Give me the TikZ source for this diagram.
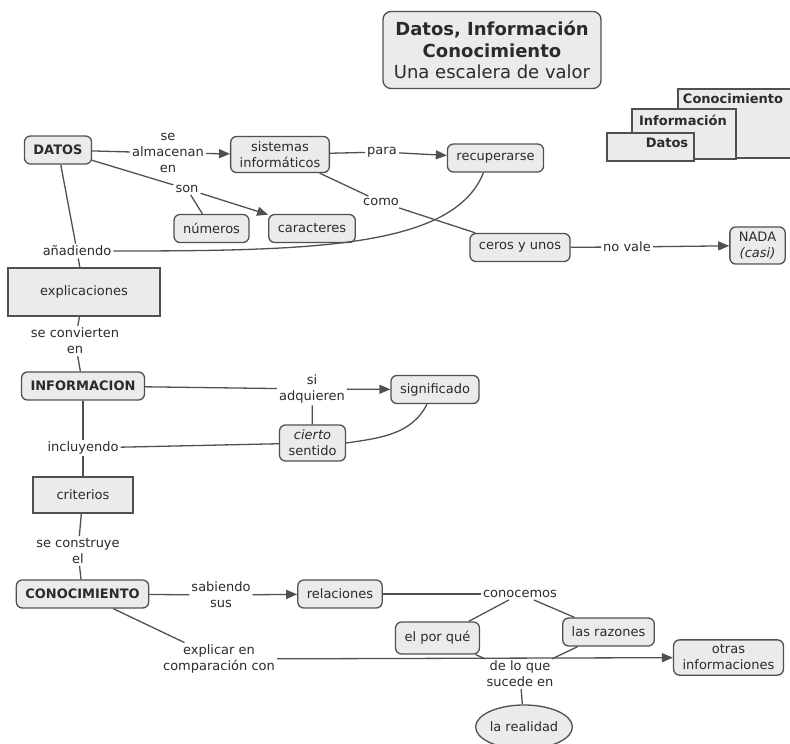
\documentclass[tikz,border=0pt]{standalone}
\usepackage{fontspec}
\setmainfont{DejaVu Sans}
\usepackage{tikz}
\usetikzlibrary{shapes.geometric, arrows.meta, positioning, calc}
\definecolor{boxgray}{HTML}{EBEBEB}
\definecolor{edgegray}{HTML}{505050}
\definecolor{inkgray}{HTML}{2B2B2B}

\begin{document}
\begin{tikzpicture}[
        x=1pt, y=-1pt,
        >={Triangle[length=11pt,width=9pt]},
        font=\fontsize{13}{16}\selectfont,
        text=inkgray,
        % concept boxes
        concept/.style={rectangle, rounded corners=6pt, draw=edgegray, line width=1.3pt, fill=boxgray, align=center, inner xsep=9pt, inner ysep=5pt, minimum height=28pt},
        boldconcept/.style={concept, font=\fontsize{13}{16}\selectfont\bfseries},
        plainbox/.style={rectangle, draw=edgegray, line width=1.3pt, fill=boxgray, align=center},
        oval/.style={ellipse, draw=edgegray, line width=1.3pt, fill=boxgray, minimum width=95pt, minimum height=44pt, inner sep=0pt},
        % linking phrases
        link/.style={align=center, inner sep=2pt},
        line/.style={draw=edgegray, line width=1.3pt},
        arrow/.style={line, ->},
        % little stair
        stepbox/.style={draw=edgegray, line width=1.3pt, fill=boxgray},
        steptext/.style={font=\fontsize{13}{15}\selectfont\bfseries}
    ]
    \useasboundingbox (0,0) rectangle (790,744);

    % --- 1. TITULO Y ESCALERA ---
    \node[concept, rounded corners=8pt, font=\fontsize{18}{21.5}\selectfont, minimum width=218pt, minimum height=77pt] (title) at (492,50)
        {\textbf{Datos, Información}\\\textbf{Conocimiento}\\Una escalera de valor};

    \draw[stepbox] (678,89) rectangle (795,158);
    \draw[stepbox] (632,109) rectangle (736,159);
    \draw[stepbox] (607,133) rectangle (694,161);
    \node[steptext] (stepC) at (733,99) {Conocimiento};
    \node[steptext] (stepI) at (683,120) {Información};
    \node[steptext] (stepD) at (667,143) {Datos};

    % --- 2. CONCEPTOS ---
    \node[boldconcept] (datos) at (58,150) {DATOS};
    \node[concept] (sistemas) at (280,154.5) {sistemas\\informáticos};
    \node[concept] (recup) at (495.5,158) {recuperarse};
    \node[concept] (numeros) at (211.5,228.5) {números};
    \node[concept] (caract) at (312,228.5) {caracteres};
    \node[concept] (ceros) at (520,247.5) {ceros y unos};
    \node[concept] (nada) at (757.5,245.5) {NADA\\\textit{(casi)}};
    \node[plainbox, minimum width=152pt, minimum height=48pt] (explic) at (84,292) {explicaciones};
    \node[boldconcept] (info) at (83,386) {INFORMACION};
    \node[concept] (signif) at (435,389.5) {significado};
    \node[concept] (cierto) at (312.5,443) {\textit{cierto}\\sentido};
    \node[plainbox, minimum width=100pt, minimum height=36pt] (criterios) at (83,495) {criterios};
    \node[boldconcept] (conoc) at (82.5,594) {CONOCIMIENTO};
    \node[concept] (relac) at (340,594) {relaciones};
    \node[concept, minimum height=32pt] (porque) at (437.5,638) {el por qué};
    \node[concept] (razones) at (608.5,632) {las razones};
    \node[concept] (otras) at (728.5,657.5) {otras\\informaciones};
    \node[oval] (realidad) at (524,727) {la realidad};

    % --- 3. FRASES DE ENLACE ---
    \node[link] (almac) at (168,153) {se\\almacenan\\en};
    \node[link] (para) at (382,152) {para};
    \node[link] (son) at (187,189) {son};
    \node[link] (como) at (381,202) {como};
    \node[link] (novale) at (627,247) {no vale};
    \node[link] (anad) at (77,251) {añadiendo};
    \node[link] (convier) at (75,341) {se convierten\\en};
    \node[link] (adquie) at (312,389) {si\\adquieren};
    \node[link] (incluy) at (83,448) {incluyendo};
    \node[link] (constr) at (78,551) {se construye\\el};
    \node[link] (sabiendo) at (221,595) {sabiendo\\sus};
    \node[link] (conocemos) at (520,594) {conocemos};
    \node[link] (explicar) at (219,659) {explicar en\\comparación con};
    \node[link] (delo) at (520,674) {de lo que\\sucede en};

    % --- 4. CONEXIONES ---
    \draw[line]  (datos) -- (almac);
    \draw[arrow] (almac) -- (sistemas);
    \draw[line]  (sistemas) -- (para);
    \draw[arrow] (para) -- (recup);
    \draw[line]  (datos) -- (son);
    \draw[line]  (son) -- (numeros);
    \draw[arrow] (son) -- (caract);
    \draw[line]  (sistemas) -- (como);
    \draw[line]  (como) -- (ceros);
    \draw[line]  (ceros) -- (novale);
    \draw[arrow] (novale) -- (nada);

    \draw[line]  (datos) -- (anad);
    \draw[line]  (anad) -- (explic);
    \draw[line]  ([xshift=-12pt]recup.south) .. controls +(-30,75) and +(200,0) .. (anad.east);
    \draw[line]  (explic) -- (convier);
    \draw[line]  (convier) -- (info);

    \draw[line]  (info) -- (adquie);
    \draw[arrow] (adquie) -- (signif);
    \draw[line]  (adquie) -- (cierto);
    \draw[line]  ([xshift=-8pt]signif.south) .. controls +(-15,30) and +(35,-5) .. (cierto.east);
    \draw[line]  (info) -- (incluy);
    \draw[line]  (cierto) -- (incluy);
    \draw[line]  (incluy) -- (criterios);
    \draw[line]  (criterios) -- (constr);
    \draw[line]  (constr) -- (conoc);

    \draw[line]  (conoc) -- (sabiendo);
    \draw[arrow] (sabiendo) -- (relac);
    \draw[line]  (relac) -- (conocemos);
    \draw[line]  (conocemos) -- (porque);
    \draw[line]  (conocemos) -- (razones);
    \draw[line]  (conoc) -- (explicar);
    \draw[arrow] (explicar) -- (otras);
    \draw[line]  (porque) -- (delo);
    \draw[line]  (razones) -- (delo);
    \draw[line]  (delo) -- (realidad);

\end{tikzpicture}
\end{document}
